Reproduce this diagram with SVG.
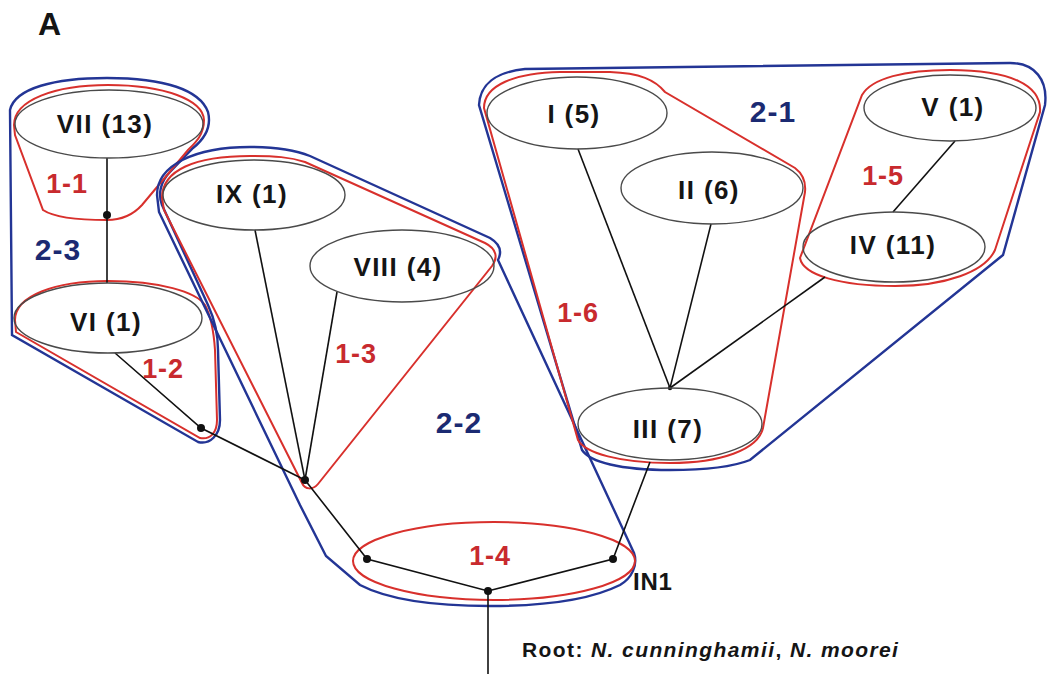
<svg xmlns="http://www.w3.org/2000/svg" width="1055" height="674" viewBox="0 0 1055 674">
<style>
.bg{fill:#ffffff}
.node ellipse{fill:none;stroke:#4a4a4a;stroke-width:1.4}
.nl{font-family:"Liberation Sans",Arial,sans-serif;font-weight:bold;font-size:26px;letter-spacing:1.4px;fill:#151515;text-anchor:middle}
.rh{fill:none;stroke:#d8302c;stroke-width:2}
.bh{fill:none;stroke:#233595;stroke-width:2.4}
.rl{font-family:"Liberation Sans",Arial,sans-serif;font-weight:bold;font-size:27px;letter-spacing:0.8px;fill:#c82a2e;text-anchor:middle}
.bl{font-family:"Liberation Sans",Arial,sans-serif;font-weight:bold;font-size:30px;letter-spacing:1px;fill:#1b2a72;text-anchor:middle}
.edge{fill:none;stroke:#111;stroke-width:1.6}
.dot{fill:#111}
.tx{font-family:"Liberation Sans",Arial,sans-serif;font-weight:bold;fill:#151515}
</style>
<rect class="bg" x="0" y="0" width="1055" height="674"/>
<text class="tx" x="38" y="35" font-size="32">A</text>

<g id="hulls">
  <path class="bh" d="M 10,110 C 15,88 55,78 107,78 C 165,78 200,90 208,112 C 212,128 203,140 193,148 L 170,172 C 160,182 158,195 162,205 L 208,305 C 214,318 218,335 218,350 L 220,420 C 220,435 210,445 198,442 L 12,335 Z"/>
  <path class="rh" d="M 14,125 C 14,100 55,85 108,85 C 165,85 203,100 204,120 C 204,135 195,143 188,150 L 142,205 C 132,216 120,220 107,220 C 80,220 55,218 43,210 L 15,135 Z"/>
  <path class="rh" d="M 15,320 C 15,296 55,281 108,281 C 160,281 196,292 205,305 C 212,318 214,335 215,350 L 217,420 C 217,433 210,440 200,438 L 16,332 Z"/>
  <path class="bh" d="M 157,195 C 157,165 195,147 250,147 C 275,147 295,150 310,156 L 490,238 C 500,244 502,252 498,260 L 634,553 C 638,565 632,578 620,585 C 590,600 545,606 490,606 C 430,606 385,598 360,585 L 326,556 L 300,505 L 159,212 Z"/>
  <path class="rh" d="M 162,198 C 162,170 195,156 250,156 C 275,156 290,157 305,162 L 485,243 C 497,249 498,258 492,266 L 318,484 C 313,490 305,490 302,483 L 164,210 Z"/>
  <ellipse class="rh" cx="494" cy="561" rx="141" ry="39"/>
  <path class="bh" d="M 479,105 C 480,85 495,72 525,69 L 1010,63 C 1035,63 1048,80 1045,105 L 1003,255 L 750,460 C 730,468 700,470 670,470 C 620,470 590,462 582,450 Z"/>
  <path class="rh" d="M 484,108 C 484,85 515,73 560,72 L 610,72 C 640,73 655,80 665,92 L 795,168 C 803,174 806,182 805,192 L 763,428 C 758,450 720,463 670,463 C 620,463 585,453 578,440 Z"/>
  <path class="rh" d="M 800,258 L 862,95 C 872,78 905,70 950,70 C 1010,70 1042,85 1040,112 L 995,250 C 985,272 945,286 895,286 C 840,286 803,275 800,258 Z"/>
</g>

<g id="connectors">
  <path class="edge" d="M 107,158 L 107,283"/>
  <path class="edge" d="M 115,353 L 201,428 L 305,480"/>
  <path class="edge" d="M 255,230 L 305,480"/>
  <path class="edge" d="M 337,292 L 305,480"/>
  <path class="edge" d="M 305,480 L 367,559 L 488,591 L 613,559 L 650,462"/>
  <path class="edge" d="M 488,591 L 488,674"/>
  <path class="edge" d="M 578,149 L 670,388"/>
  <path class="edge" d="M 711,224 L 670,388"/>
  <path class="edge" d="M 825,277 L 670,388"/>
  <path class="edge" d="M 955,141 L 893,212"/>
  <circle class="dot" cx="107" cy="215" r="4"/>
  <circle class="dot" cx="201" cy="428" r="4"/>
  <circle class="dot" cx="305" cy="480" r="4"/>
  <circle class="dot" cx="367" cy="559" r="4"/>
  <circle class="dot" cx="613" cy="559" r="4"/>
  <circle class="dot" cx="488" cy="591" r="4"/>
  <circle class="dot" cx="670" cy="388" r="2.2"/>
</g>

<g id="VII" class="node"><ellipse cx="109" cy="124" rx="94" ry="34"/><text class="nl" x="105" y="133">VII (13)</text></g>
<g id="VI" class="node"><ellipse cx="108" cy="318" rx="94" ry="35"/><text class="nl" x="106" y="331">VI (1)</text></g>
<g id="IX" class="node"><ellipse cx="254" cy="195" rx="91" ry="35"/><text class="nl" x="252" y="203">IX (1)</text></g>
<g id="VIII" class="node"><ellipse cx="402" cy="266" rx="92" ry="36"/><text class="nl" x="398" y="276">VIII (4)</text></g>
<g id="I" class="node"><ellipse cx="577" cy="113" rx="90" ry="36"/><text class="nl" x="574" y="123">I (5)</text></g>
<g id="II" class="node"><ellipse cx="712" cy="188" rx="91" ry="36"/><text class="nl" x="709" y="199">II (6)</text></g>
<g id="III" class="node"><ellipse cx="670" cy="424" rx="92" ry="36"/><text class="nl" x="668" y="438">III (7)</text></g>
<g id="IV" class="node"><ellipse cx="894" cy="247" rx="91" ry="35"/><text class="nl" x="893" y="254">IV (11)</text></g>
<g id="V" class="node"><ellipse cx="950" cy="108" rx="86" ry="33"/><text class="nl" x="953" y="116">V (1)</text></g>

<g id="labels">
  <text class="rl" x="67" y="193">1-1</text>
  <text class="rl" x="163" y="378">1-2</text>
  <text class="rl" x="356" y="363">1-3</text>
  <text class="rl" x="490" y="565">1-4</text>
  <text class="rl" x="883" y="185">1-5</text>
  <text class="rl" x="578" y="322">1-6</text>
  <text class="bl" x="773" y="122">2-1</text>
  <text class="bl" x="459" y="433">2-2</text>
  <text class="bl" x="58" y="260">2-3</text>
  <text class="tx" x="633" y="590" font-size="24" letter-spacing="0.8">IN1</text>
  <text class="tx" x="522" y="657" font-size="21" letter-spacing="1.4">Root: <tspan font-style="italic">N. cunninghamii</tspan>, <tspan font-style="italic">N. moorei</tspan></text>
</g>
</svg>
